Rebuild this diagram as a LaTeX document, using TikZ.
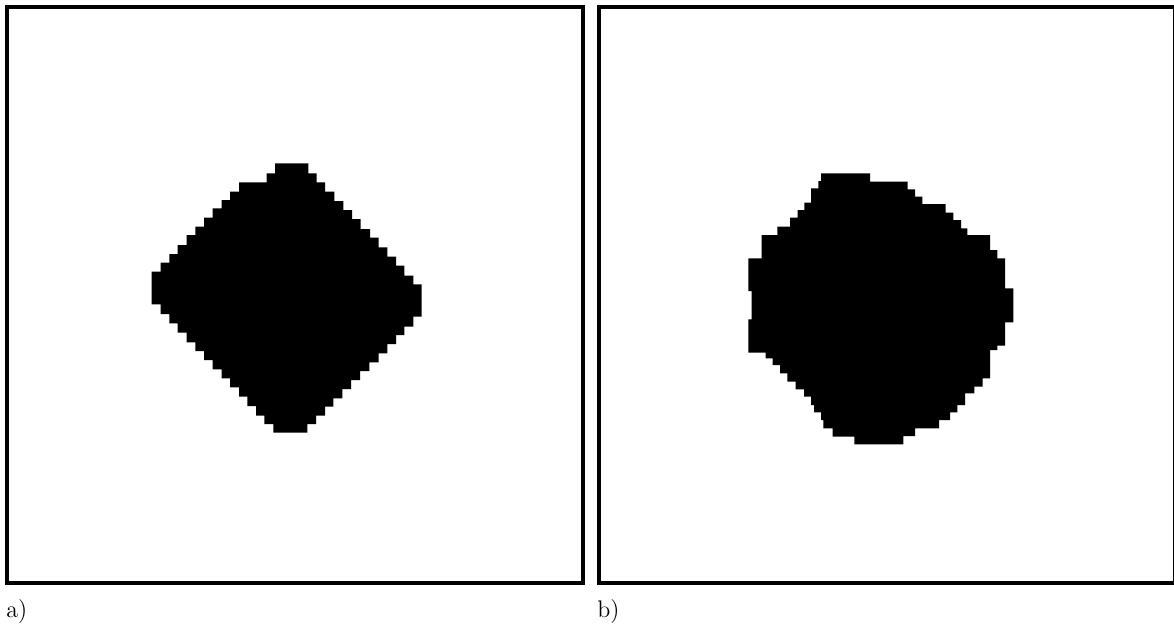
\documentclass[tikz,border=0pt]{standalone}
\usepackage{tikz}
\usetikzlibrary{positioning}

\tikzset{
  imgframe/.style={draw=black,line width=2pt},
  blob/.style={fill=black},
  panellabel/.style={anchor=base west,inner sep=0pt,font=\large}
}

\begin{document}
\begin{tikzpicture}[x=0.5pt,y=-0.5pt]
\useasboundingbox (0,0) rectangle (1174,628);
% frames
\draw[imgframe] (7,7) rectangle (583,583);
\draw[imgframe] (599,7) rectangle (1175,583);
% a) rotated square
\fill[blob] (275.0,163.3) -- (308.3,163.3)
  |- (316.7,173.3) |- (325.0,182.3) |- (334.3,191.7) |- (343.3,201.0)
  |- (352.0,210.0) |- (360.7,219.0) |- (370.0,229.0) |- (378.7,237.7)
  |- (387.3,247.3) |- (396.0,256.7) |- (404.3,265.7) |- (413.3,275.7)
  |- (421.7,284.3) |- (413.3,316.7) |- (404.3,326.7) |- (396.0,335.0)
  |- (387.3,344.0) |- (378.7,353.3) |- (369.3,362.3) |- (360.0,371.0)
  |- (351.0,380.0) |- (342.3,389.0) |- (333.3,398.3) |- (325.0,406.7)
  |- (316.0,415.7) |- (307.3,424.0) |- (273.3,432.7)
  |- (264.3,424.0) |- (256.0,415.7) |- (247.3,406.0) |- (239.0,396.7)
  |- (230.0,387.3) |- (221.7,378.3) |- (212.7,369.3) |- (204.0,360.0)
  |- (195.3,351.0) |- (186.7,342.3) |- (177.7,332.7) |- (169.3,323.3)
  |- (160.7,314.0) |- (151.7,304.3) |- (160.7,271.7) |- (169.3,262.7)
  |- (177.7,254.0) |- (186.7,245.0) |- (195.3,235.0) |- (204.0,226.7)
  |- (212.7,217.7) |- (221.7,208.3) |- (230.0,200.0) |- (239.0,191.7)
  |- (266.7,182.3) |- (275.0,173.3) -- cycle;
% b) rounded blob
\fill[blob] (821.0,173.3) -- (870.0,173.3)
  |- (907.7,181.7) |- (915.0,189.3) |- (922.3,196.7) |- (945.7,204.0)
  |- (953.3,212.7) |- (961.0,220.0) |- (967.3,228.3) |- (990.0,235.0)
  |- (997.3,250.0) |- (1005.0,258.3) |- (1013.3,288.3) |- (1005.0,322.3)
  |- (997.3,345.7) |- (990.0,350.0) |- (982.7,378.3) |- (974.3,386.7)
  |- (965.0,393.3) |- (957.3,405.0) |- (950.0,412.3) |- (939.0,420.0)
  |- (915.0,428.3) |- (903.3,436.0) |- (854.3,444.3)
  |- (832.7,436.7) |- (823.3,428.3) |- (821.0,420.0) |- (814.0,412.3)
  |- (811.0,405.0) |- (804.0,396.7) |- (795.7,389.3) |- (787.3,381.7)
  |- (780.0,373.3) |- (772.7,365.0) |- (765.7,358.3) |- (748.3,352.7)
  |- (751.7,319.3) |- (748.3,291.0) |- (761.7,258.3) |- (777.3,235.0)
  |- (790.0,226.7) |- (797.7,217.7) |- (804.3,210.0) |- (811.0,202.7)
  |- (818.3,188.3) |- (821.0,181.0) -- cycle;
% labels
\node[panellabel] (labela) at (6,617) {a)};
\node[panellabel] (labelb) at (597,617) {b)};
\end{tikzpicture}
\end{document}
